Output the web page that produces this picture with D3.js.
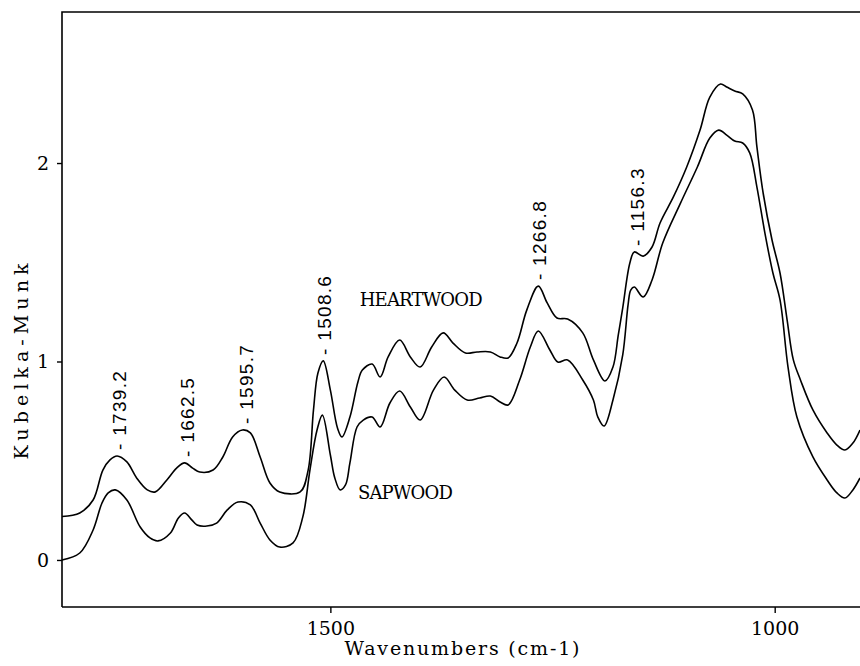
<!DOCTYPE html>
<html>
<head>
<meta charset="utf-8">
<script src="https://cdn.jsdelivr.net/npm/d3@7/dist/d3.min.js"></script>
<style>
  body { margin: 0; background: #fff; }
  svg { display: block; }
</style>
</head>
<body>
<script>
// size
var w = 860;
var h = 666;
var margin = {top: 12, right: 0, bottom: 59, left: 62};

// heartwood spectrum (wavenumber, Kubelka-Munk)
var heartWn = [1802, 1782, 1767, 1756, 1748, 1740, 1729, 1718, 1706, 1697, 1684, 1673, 1664, 1655, 1647,
  1632, 1621, 1610, 1599, 1590, 1579, 1568, 1557, 1534, 1525, 1519, 1514, 1508, 1500, 1492, 1487,
  1478, 1469, 1464, 1453, 1444, 1435, 1422, 1410, 1399, 1386, 1373, 1362, 1348, 1335, 1320, 1309,
  1300, 1290, 1279, 1266, 1256, 1245, 1233, 1216, 1204, 1191, 1182, 1176, 1171, 1163, 1158, 1148,
  1138, 1129, 1114, 1099, 1084, 1073, 1061, 1054, 1045, 1036, 1025, 1020, 1013, 1003, 994, 986,
  979, 971, 957, 941, 930, 921, 912, 904];
var heartKM = [0.219, 0.237, 0.302, 0.453, 0.504, 0.524, 0.494, 0.413, 0.353, 0.343, 0.403, 0.463, 0.489, 0.463, 0.443,
  0.453, 0.519, 0.620, 0.655, 0.640, 0.519, 0.388, 0.343, 0.343, 0.453, 0.756, 0.942, 1.003, 0.856, 0.665, 0.620,
  0.720, 0.897, 0.957, 0.987, 0.922, 1.023, 1.108, 1.023, 0.972, 1.073, 1.144, 1.093, 1.043, 1.048, 1.048, 1.023,
  1.018, 1.093, 1.259, 1.380, 1.295, 1.219, 1.214, 1.144, 1.008, 0.902, 0.972, 1.134, 1.270, 1.496, 1.552, 1.531,
  1.577, 1.698, 1.829, 1.980, 2.166, 2.332, 2.398, 2.383, 2.363, 2.348, 2.267, 2.081, 1.849, 1.612, 1.446, 1.209,
  1.008, 0.907, 0.756, 0.640, 0.579, 0.554, 0.589, 0.655];

// sapwood spectrum
var sapWn = [1802, 1782, 1767, 1757, 1750, 1742, 1729, 1714, 1703, 1694, 1680, 1671, 1664, 1656, 1650,
  1639, 1628, 1616, 1604, 1590, 1579, 1568, 1557, 1542, 1531, 1523, 1515, 1509, 1500, 1495, 1489,
  1483, 1478, 1470, 1463, 1453, 1444, 1433, 1422, 1410, 1399, 1384, 1372, 1360, 1346, 1332, 1320,
  1309, 1300, 1287, 1275, 1266, 1253, 1244, 1233, 1216, 1204, 1199, 1192, 1182, 1171, 1165, 1162,
  1158, 1148, 1138, 1126, 1106, 1087, 1073, 1063, 1054, 1045, 1036, 1028, 1020, 1011, 1002, 994,
  985, 975, 957, 941, 930, 921, 912, 904];
var sapKM = [0.000, 0.035, 0.151, 0.287, 0.338, 0.353, 0.302, 0.166, 0.111, 0.096, 0.136, 0.212, 0.237, 0.202, 0.176,
  0.171, 0.186, 0.252, 0.292, 0.277, 0.186, 0.101, 0.065, 0.086, 0.217, 0.453, 0.655, 0.730, 0.529, 0.413, 0.353,
  0.378, 0.489, 0.670, 0.705, 0.720, 0.670, 0.791, 0.851, 0.771, 0.705, 0.856, 0.922, 0.856, 0.806, 0.816, 0.826,
  0.796, 0.781, 0.907, 1.073, 1.154, 1.058, 0.997, 1.008, 0.907, 0.806, 0.720, 0.675, 0.806, 1.033, 1.285, 1.360,
  1.375, 1.325, 1.411, 1.597, 1.798, 1.980, 2.126, 2.166, 2.141, 2.111, 2.101, 2.050, 1.879, 1.647, 1.446, 1.310,
  0.972, 0.720, 0.519, 0.403, 0.338, 0.312, 0.353, 0.413];

// labelled peaks (on the heartwood curve)
var peakLabels = [1739.2, 1662.5, 1595.7, 1508.6, 1266.8, 1156.3];

// axes
var xTicks = [1500, 1000];
var yTicks = [0, 1, 2];
var xTitle = 'Wavenumbers (cm-1)';
var yTitle = 'Kubelka-Munk';

var heart = heartWn.map((d, i) => [d, heartKM[i]]);
var sap = sapWn.map((d, i) => [d, sapKM[i]]);

var serif = '"DejaVu Serif", serif';
var sans = '"Liberation Sans", Arial, sans-serif';
var ink = '#000';

var xScale = d3.scaleLinear()
    .domain([1802, 904])
    .range([margin.left, w - margin.right]);

var yScale = d3.scaleLinear()
    .domain([-0.237, 2.761])
    .range([h - margin.bottom, margin.top]);

var svg = d3.select('body')
    .append('svg')
    .attr('width', w)
    .attr('height', h);

var line = d3.line()
    .x(d => xScale(d[0]))
    .y(d => yScale(d[1]))
    .curve(d3.curveCatmullRom.alpha(0.5));

svg.selectAll('path.spec')
    .data([heart, sap])
    .enter()
    .append('path')
    .attr('class', 'spec')
    .attr('d', line)
    .attr('fill', 'none')
    .attr('stroke', ink)
    .attr('stroke-width', 1.6);

// frame: left, top and bottom sides only
svg.append('path')
    .attr('d', 'M' + margin.left + ',' + (h - margin.bottom) + 'V' + margin.top + 'H' + w +
      'M' + margin.left + ',' + (h - margin.bottom) + 'H' + w)
    .attr('fill', 'none')
    .attr('stroke', ink)
    .attr('stroke-width', 1.6);

// axes
var xAxis = d3.axisBottom(xScale)
    .tickValues(xTicks)
    .tickSize(6)
    .tickPadding(9)
    .tickFormat(d3.format('d'));

var gx = svg.append('g')
    .attr('transform', 'translate(0,' + (h - margin.bottom) + ')')
    .call(xAxis);

var yAxis = d3.axisLeft(yScale)
    .tickValues(yTicks)
    .tickSize(5)
    .tickPadding(8)
    .tickFormat(d3.format('d'));

var gy = svg.append('g')
    .attr('transform', 'translate(' + margin.left + ',0)')
    .call(yAxis);

[gx, gy].forEach(g => {
  g.select('.domain').remove();
  g.selectAll('line').attr('stroke', ink).attr('stroke-width', 1.4);
  g.selectAll('text')
    .attr('fill', ink)
    .style('font-family', serif)
    .style('font-size', '19px');
});

// axis titles
svg.append('text')
    .attr('x', (margin.left + w) / 2 + 1)
    .attr('y', 655)
    .attr('text-anchor', 'middle')
    .attr('textLength', 235)
    .attr('lengthAdjust', 'spacing')
    .style('font-family', serif)
    .style('font-size', '19px')
    .attr('fill', ink)
    .text(xTitle);

svg.append('text')
    .attr('transform', 'translate(28,' + yScale(1) + ') rotate(-90)')
    .attr('text-anchor', 'middle')
    .attr('textLength', 196)
    .attr('lengthAdjust', 'spacing')
    .style('font-family', serif)
    .style('font-size', '19px')
    .attr('fill', ink)
    .text(yTitle);

// peak labels, placed just above the heartwood maximum
svg.selectAll('text.peak')
    .data(peakLabels)
    .enter()
    .append('text')
    .attr('class', 'peak')
    .attr('transform', d => {
      var near = heart.filter(p => Math.abs(p[0] - d) < 9);
      var top = d3.max(near, p => p[1]);
      return 'translate(' + (xScale(d) + 8) + ',' + (yScale(top) - 6) + ') rotate(-90)';
    })
    .style('font-family', sans)
    .style('font-size', '19px')
    .style('letter-spacing', '1.3px')
    .attr('fill', ink)
    .text(d => '- ' + d.toFixed(1));

// series names
svg.append('text')
    .attr('x', xScale(1467))
    .attr('y', yScale(1.28))
    .attr('textLength', 123)
    .attr('lengthAdjust', 'spacing')
    .style('font-family', serif)
    .style('font-size', '18px')
    .attr('fill', ink)
    .text('HEARTWOOD');

svg.append('text')
    .attr('x', xScale(1469))
    .attr('y', yScale(0.307))
    .attr('textLength', 95)
    .attr('lengthAdjust', 'spacing')
    .style('font-family', serif)
    .style('font-size', '18px')
    .attr('fill', ink)
    .text('SAPWOOD');
</script>
</body>
</html>
